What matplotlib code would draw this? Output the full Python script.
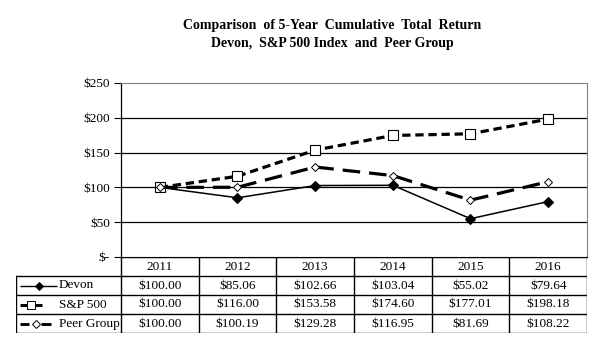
import numpy as np
import matplotlib.pyplot as plt

plt.rcParams['font.family'] = ['Liberation Serif', 'DejaVu Serif']

years = ['2011', '2012', '2013', '2014', '2015', '2016']
devon = [100.00, 85.06, 102.66, 103.04, 55.02, 79.64]
sp500 = [100.00, 116.00, 153.58, 174.60, 177.01, 198.18]
peer = [100.00, 100.19, 129.28, 116.95, 81.69, 108.22]
names = ['Devon', 'S&P 500', 'Peer Group']
yticks = [0, 50, 100, 150, 200, 250]
ytick_labels = ['$-', '$50', '$100', '$150', '$200', '$250']

W, H = 609, 353
fig = plt.figure(figsize=(W / 100, H / 100), dpi=100)

def box(x0, y0, x1, y1):
    # pixel box (top-left origin) -> figure fraction
    return [x0 / W, 1 - y1 / H, (x1 - x0) / W, (y1 - y0) / H]

styles = [
    dict(color='black', lw=1.1, ls='-', marker='D', ms=5, mfc='black', mec='black', mew=0.8),
    dict(color='black', lw=2.3, ls=(0, (2.6, 1.5)), marker='s', ms=6.5, mfc='white', mec='black', mew=0.8),
    dict(color='black', lw=2.3, ls=(0, (5.5, 2.8)), marker='D', ms=4.5, mfc='white', mec='black', mew=0.7),
]
series = [devon, sp500, peer]

ax = fig.add_axes(box(121, 83, 587, 257))
x = np.arange(len(years))
for vals, st in zip(series, styles):
    ax.plot(x, vals, **st, zorder=3)
ax.set_xlim(-0.5, len(years) - 0.5)
ax.set_ylim(0, 250)
ax.set_yticks(yticks)
ax.set_yticklabels(ytick_labels, fontsize=9.5)
ax.set_xticks([])
for v in yticks[1:-1]:
    ax.axhline(v, color='black', lw=0.9, zorder=1)
ax.tick_params(axis='y', direction='out', length=5, width=0.8, pad=3)
ax.spines['left'].set_linewidth(0.9)
ax.spines['top'].set_color('#808080')
ax.spines['right'].set_color('#808080')

# data table under the plot
left_px = 16
col_w = (587 - 121) / len(years)
tx0 = -0.5 - (121 - left_px) / col_w
tab = fig.add_axes(box(left_px, 257, 587, 333))
tab.set_xlim(tx0, len(years) - 0.5)
tab.set_ylim(4, 0)
tab.axis('off')
lk = dict(color='black', lw=1.0)
tab.plot([-0.5, len(years) - 0.5], [0, 0], **lk)
for r in range(1, 5):
    tab.plot([tx0, len(years) - 0.5], [r, r], **lk)
tab.plot([tx0, tx0], [1, 4], **lk)
for c in range(len(years) + 1):
    tab.plot([c - 0.5, c - 0.5], [0, 4], **lk)
for c, yr in enumerate(years):
    tab.text(c, 0.5, yr, ha='center', va='center', fontsize=9.5)

def px(p):
    return tx0 + (p - left_px) / col_w

# legend keys: (segments in px, marker x in px)
keys = [
    ([(20, 57)], 39),
    ([(20, 27), (35, 42)], 31),
    ([(20, 29), (41, 51)], 36),
]
for r, (vals, st, nm, key) in enumerate(zip(series, styles, names, keys), start=1):
    for c, v in enumerate(vals):
        tab.text(c, r + 0.5, '${:,.2f}'.format(v), ha='center', va='center', fontsize=9.5)
    segs, mx = key
    for a, b in segs:
        tab.plot([px(a), px(b)], [r + 0.5, r + 0.5], color='black', lw=st['lw'] * 0.9,
                 solid_capstyle='butt')
    tab.plot([px(mx)], [r + 0.5], ls='none', marker=st['marker'], ms=st['ms'] * 0.8,
             mfc=st['mfc'], mec=st['mec'], mew=0.7)
    tab.text(px(59), r + 0.5, nm, ha='left', va='center', fontsize=9.5)

fig.text(0.545, 1 - 26 / H, 'Comparison  of 5-Year  Cumulative  Total  Return',
         ha='center', va='center', fontsize=10, fontweight='bold')
fig.text(0.545, 1 - 44 / H, 'Devon,  S&P 500 Index  and  Peer Group',
         ha='center', va='center', fontsize=10, fontweight='bold')

fig.savefig('out.png', dpi=100)
